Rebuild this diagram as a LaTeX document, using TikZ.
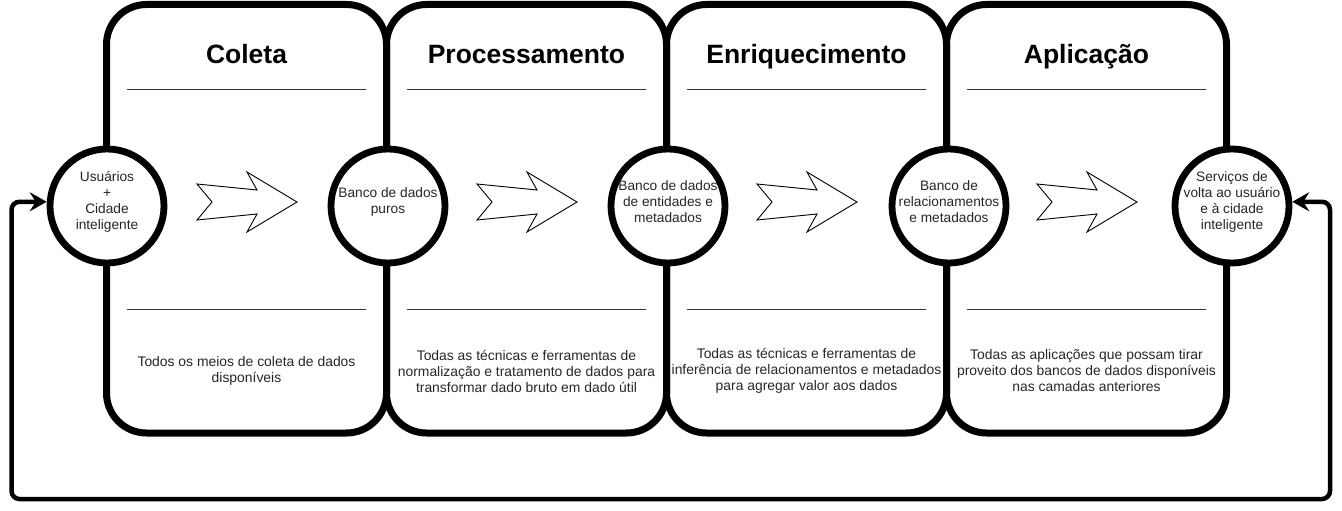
\documentclass[tikz,border=0pt]{standalone}
\usepackage{fontspec}
\setmainfont{Liberation Sans}
\usetikzlibrary{shapes.geometric, arrows.meta}
\tikzstyle{stage} = [rectangle, rounded corners=40pt, minimum width=280pt, minimum height=428.5pt, draw=black, line width=7pt, inner sep=0pt]
\tikzstyle{hub} = [circle, minimum size=114pt, draw=black, line width=6.8pt, fill=white, inner sep=0pt]
\tikzstyle{hubtext} = [align=center, font=\fontsize{13.7}{16}\selectfont, text=black!85, inner sep=0pt]
\tikzstyle{title} = [anchor=base, font=\fontsize{26.5}{30}\selectfont\bfseries]
\tikzstyle{desc} = [align=center, font=\fontsize{13.9}{16}\selectfont, text=black!85, inner sep=0pt]
\tikzstyle{rule} = [line width=1.5pt, draw=black!80]
\tikzstyle{chevron} = [draw=black, fill=white, line width=0.9pt, line join=miter]
\tikzstyle{feedback} = [line width=4.5pt, rounded corners=8pt, >={Stealth[length=17pt,width=19pt,inset=6pt]}, <->]

\begin{document}
\begin{tikzpicture}[x=1pt, y=-1pt, node distance=280pt]
\useasboundingbox (0,0) rectangle (1342,511);

% stages
\node (coleta) [stage] at (246.5,218.75) {};
\node (proc) [stage, right of=coleta] {};
\node (enriq) [stage, right of=proc] {};
\node (aplic) [stage, right of=enriq] {};

\node (t1) [title] at (246.5,64) {Coleta};
\node (t2) [title] at (526.5,64) {Processamento};
\node (t3) [title] at (806.5,64) {Enriquecimento};
\node (t4) [title] at (1086.5,64) {Aplicação};

% separators
\draw [rule] ([xshift=24pt,yshift=-88.5pt]coleta.north west) -- ([xshift=-24pt,yshift=-88.5pt]coleta.north east);
\draw [rule] ([xshift=24pt,yshift=-88.5pt]proc.north west) -- ([xshift=-24pt,yshift=-88.5pt]proc.north east);
\draw [rule] ([xshift=24pt,yshift=-88.5pt]enriq.north west) -- ([xshift=-24pt,yshift=-88.5pt]enriq.north east);
\draw [rule] ([xshift=24pt,yshift=-88.5pt]aplic.north west) -- ([xshift=-24pt,yshift=-88.5pt]aplic.north east);
\draw [rule] ([xshift=24pt,yshift=-308.5pt]coleta.north west) -- ([xshift=-24pt,yshift=-308.5pt]coleta.north east);
\draw [rule] ([xshift=24pt,yshift=-308.5pt]proc.north west) -- ([xshift=-24pt,yshift=-308.5pt]proc.north east);
\draw [rule] ([xshift=24pt,yshift=-308.5pt]enriq.north west) -- ([xshift=-24pt,yshift=-308.5pt]enriq.north east);
\draw [rule] ([xshift=24pt,yshift=-308.5pt]aplic.north west) -- ([xshift=-24pt,yshift=-308.5pt]aplic.north east);

\node (d1) [desc] at (246.5,371) {Todos os meios de coleta de dados\\disponíveis};
\node (d2) [desc] at (526.5,371) {Todas as técnicas e ferramentas de\\normalização e tratamento de dados para\\transformar dado bruto em dado útil};
\node (d3) [desc] at (806.5,371) {Todas as técnicas e ferramentas de\\inferência de relacionamentos e metadados\\para agregar valor aos dados};
\node (d4) [desc] at (1086.5,371) {Todas as aplicações que possam tirar\\proveito dos bancos de dados disponíveis\\nas camadas anteriores};

% flow chevrons
\draw [chevron, shift={(247,202)}] (-50,-18) -- (-35,0) -- (-50,18) -- (10,12) -- (0,30) -- (50,0) -- (0,-30) -- (10,-12) -- cycle;
\draw [chevron, shift={(527,202)}] (-50,-18) -- (-35,0) -- (-50,18) -- (10,12) -- (0,30) -- (50,0) -- (0,-30) -- (10,-12) -- cycle;
\draw [chevron, shift={(807,202)}] (-50,-18) -- (-35,0) -- (-50,18) -- (10,12) -- (0,30) -- (50,0) -- (0,-30) -- (10,-12) -- cycle;
\draw [chevron, shift={(1087,202)}] (-50,-18) -- (-35,0) -- (-50,18) -- (10,12) -- (0,30) -- (50,0) -- (0,-30) -- (10,-12) -- cycle;

% data hubs
\node (c1) [hub] at (107,206) {};
\node (c2) [hub] at (388,206) {};
\node (c3) [hub] at (668,206) {};
\node (c4) [hub] at (949,206) {};
\node (c5) [hub] at (1232,206) {};

\node (c1txt) [hubtext] at (107,202) {Usuários\\+\\Cidade\\inteligente};
\node (c2txt) [hubtext] at (388,202) {Banco de dados\\puros};
\node (c3txt) [hubtext] at (668,202) {Banco de dados\\de entidades e\\metadados};
\node (c4txt) [hubtext] at (949,202) {Banco de\\relacionamentos\\e metadados};
\node (c5txt) [hubtext] at (1232,202) {Serviços de\\volta ao usuário\\e à cidade\\inteligente};

% feedback loop
\coordinate (fbR) at (1330,499);
\coordinate (fbL) at (11.5,499);
\draw [feedback] (c5.4) -| (fbR) -- (fbL) |- (c1.176);

\end{tikzpicture}
\end{document}
